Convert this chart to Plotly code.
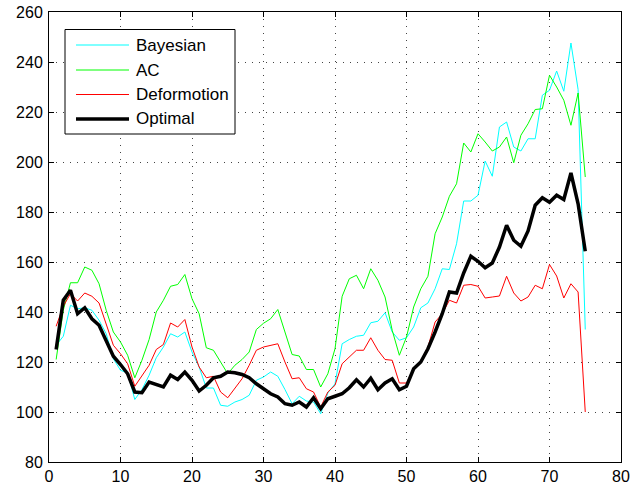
import plotly.graph_objects as go

# Frame index (1..75)
frames = list(range(1, 76))

bayesian = [126.7, 130.3, 142.7, 141.3, 141.7, 140.7, 136.7, 131.3, 121.3, 116.7,
            115.6, 105.0, 109.0, 114.7, 121.7, 126.0, 131.3, 130.0, 132.0, 124.0,
            118.0, 109.6, 109.6, 102.7, 102.3, 104.0, 105.0, 106.7, 112.7, 114.0,
            116.0, 114.3, 109.0, 103.3, 106.3, 104.4, 104.0, 99.3, 107.6, 111.3,
            127.3, 129.0, 130.3, 130.7, 135.7, 136.3, 139.7, 132.0, 128.7, 129.7,
            134.0, 141.7, 143.6, 149.3, 157.3, 157.0, 167.3, 184.4, 184.4, 186.7,
            200.4, 194.3, 214.0, 216.0, 206.0, 204.4, 209.3, 209.3, 226.7, 228.7,
            236.4, 228.3, 247.6, 229.0, 133.0]

ac = [121.0, 140.7, 151.7, 151.7, 158.0, 156.7, 151.3, 140.7, 132.0, 128.0,
      122.7, 113.7, 120.7, 129.0, 140.0, 144.7, 150.3, 151.0, 155.0, 145.3,
      139.3, 125.7, 124.7, 120.0, 115.3, 118.7, 121.0, 124.0, 133.0, 135.5,
      137.3, 141.0, 132.0, 123.0, 122.4, 117.0, 117.0, 110.0, 115.3, 125.3,
      146.3, 153.3, 154.7, 149.3, 157.3, 152.7, 146.0, 132.7, 122.7, 130.0,
      142.0, 149.3, 154.3, 171.3, 178.0, 186.3, 191.3, 207.6, 204.0, 211.3,
      208.0, 204.4, 206.0, 210.0, 199.7, 210.7, 215.3, 221.0, 221.3, 234.7,
      230.0, 224.7, 214.7, 227.6, 194.0]

deformotion = [134.3, 142.3, 147.3, 144.4, 147.6, 146.3, 143.6, 134.7, 126.7, 123.3,
               119.3, 110.3, 114.7, 118.7, 125.0, 127.0, 135.6, 134.0, 137.0, 126.0,
               118.0, 113.7, 114.3, 108.0, 105.7, 109.3, 113.3, 118.7, 124.7, 126.0,
               126.7, 127.3, 120.0, 113.3, 113.7, 109.3, 108.0, 102.0, 108.0, 110.7,
               119.3, 122.0, 124.7, 124.7, 129.7, 124.7, 121.0, 120.7, 111.6, 111.6,
               117.3, 120.4, 126.0, 136.0, 139.3, 144.7, 143.6, 150.7, 151.0, 150.3,
               145.6, 146.0, 146.4, 154.3, 147.6, 144.4, 146.0, 150.7, 149.3, 159.0,
               154.4, 145.6, 151.3, 148.0, 100.0]

optimal = [125.0, 144.7, 148.7, 139.3, 141.7, 137.3, 134.7, 128.7, 122.3, 119.0,
           115.3, 108.0, 107.7, 112.0, 111.0, 110.0, 114.7, 113.0, 116.0, 112.7,
           108.4, 110.7, 113.7, 114.3, 116.0, 115.7, 115.0, 113.7, 111.3, 109.5,
           107.3, 106.0, 103.3, 102.7, 104.0, 102.0, 105.7, 101.3, 105.3, 106.3,
           107.3, 109.7, 112.9, 110.0, 113.5, 108.9, 111.6, 113.3, 108.9, 110.3,
           117.3, 120.0, 125.3, 132.0, 139.3, 148.0, 147.6, 155.6, 162.3, 160.3,
           157.7, 159.6, 166.0, 174.7, 168.7, 166.3, 172.4, 182.7, 185.7, 183.9,
           186.7, 185.0, 195.6, 183.3, 164.3]

series_names = ["Bayesian", "AC", "Deformotion", "Optimal"]
series_values = [bayesian, ac, deformotion, optimal]
series_colors = ["#00FFFF", "#00FF00", "#FF0000", "#000000"]
series_widths = [1, 1, 1, 3.5]

x_ticks = list(range(0, 81, 10))
y_ticks = list(range(80, 261, 20))

FONT = "Liberation Sans, Arial, Helvetica, sans-serif"

fig = go.Figure()
for name, vals, col, w in zip(series_names, series_values, series_colors, series_widths):
    fig.add_trace(go.Scatter(x=frames, y=vals, mode="lines", name=name,
                             line=dict(color=col, width=w), showlegend=False))

# Boxed legend in the upper-left corner of the axes
L, R, T, B = 49, 18, 12, 26
W, H = 639 - L - R, 488 - T - B


def px_x(p):
    return (p - L) / W


def px_y(p):
    return (488 - B - p) / H


shapes = [dict(type="rect", xref="paper", yref="paper",
               x0=px_x(65), x1=px_x(235), y0=px_y(134), y1=px_y(29.5),
               line=dict(color="black", width=1), fillcolor="white", layer="above")]
annotations = []
entry_y = [45, 70, 94.5, 119]
for name, col, w, ey in zip(series_names, series_colors, series_widths, entry_y):
    shapes.append(dict(type="line", xref="paper", yref="paper",
                       x0=px_x(76), x1=px_x(129), y0=px_y(ey), y1=px_y(ey),
                       line=dict(color=col, width=w), layer="above"))
    annotations.append(dict(xref="paper", yref="paper", x=px_x(134), y=px_y(ey),
                            text=name, showarrow=False, xanchor="left", yanchor="middle",
                            font=dict(family=FONT, size=17, color="black")))

axis_common = dict(showline=True, linecolor="black", linewidth=1, mirror="ticks",
                   ticks="inside", ticklen=5, tickcolor="black", tickwidth=1,
                   showgrid=True, gridcolor="#444444", gridwidth=1, griddash="1px,6px",
                   zeroline=False, automargin=False,
                   tickfont=dict(family=FONT, size=16, color="black"))

fig.update_layout(
    width=639, height=488,
    margin=dict(l=L, r=R, t=T, b=B),
    paper_bgcolor="white", plot_bgcolor="white",
    xaxis=dict(range=[0, 80], tickvals=x_ticks, **axis_common),
    yaxis=dict(range=[80, 260], tickvals=y_ticks, ticklabelstandoff=2, **axis_common),
    shapes=shapes, annotations=annotations,
)

fig.write_html("out.html")
